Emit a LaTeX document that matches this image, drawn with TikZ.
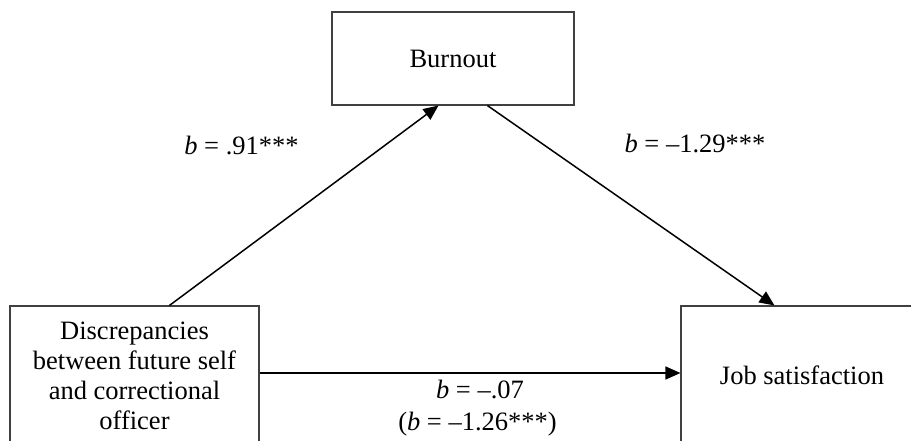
\documentclass[tikz,border=0pt]{standalone}
\usepackage{fontspec}
\setmainfont{Liberation Serif}
\usetikzlibrary{arrows.meta,calc}
\begin{document}
\begin{tikzpicture}[x=0.5pt,y=-0.5pt,
  box/.style={draw=black!75,line width=0.55pt,inner sep=0pt,align=center,font=\fontsize{13.25pt}{15pt}\selectfont},
  conn/.style={line width=0.75pt,-{Triangle[length=7.5pt,width=6.5pt]}},
  lbl/.style={font=\fontsize{13.25pt}{16pt}\selectfont,inner sep=0pt,anchor=base}]
\useasboundingbox (0,0) rectangle (911,440);
\clip (0,0) rectangle (911,440);
\node[box,minimum width=124.5pt,minimum height=70pt] (disc) at (134.5,376) {Discrepancies\\between future self\\and correctional\\officer};
\node[box,minimum width=121pt,minimum height=46.5pt] (burn) at (453,58.5) {Burnout};
\node[box,minimum width=121pt,minimum height=69pt] (job) at (802,375) {Job satisfaction};
\node[lbl] (l1) at (241.5,154) {\textit{b} = .91***};
\node[lbl] (l2) at (695,152) {\textit{b} = –1.29***};
\node[lbl] (l3) at (480,398) {\textit{b} = –.07};
\node[lbl] (l4) at (477.5,430) {(\textit{b} = –1.26***)};
\draw[conn] ([xshift=80pt]disc.north west) -- ([xshift=53.5pt]burn.south west);
\draw[conn] ([xshift=78pt]burn.south west) -- ([xshift=47pt]job.north west);
\draw[conn] ([yshift=1.5pt]disc.east) -- ([yshift=1.5pt]disc.east -| job.west);
\end{tikzpicture}
\end{document}
